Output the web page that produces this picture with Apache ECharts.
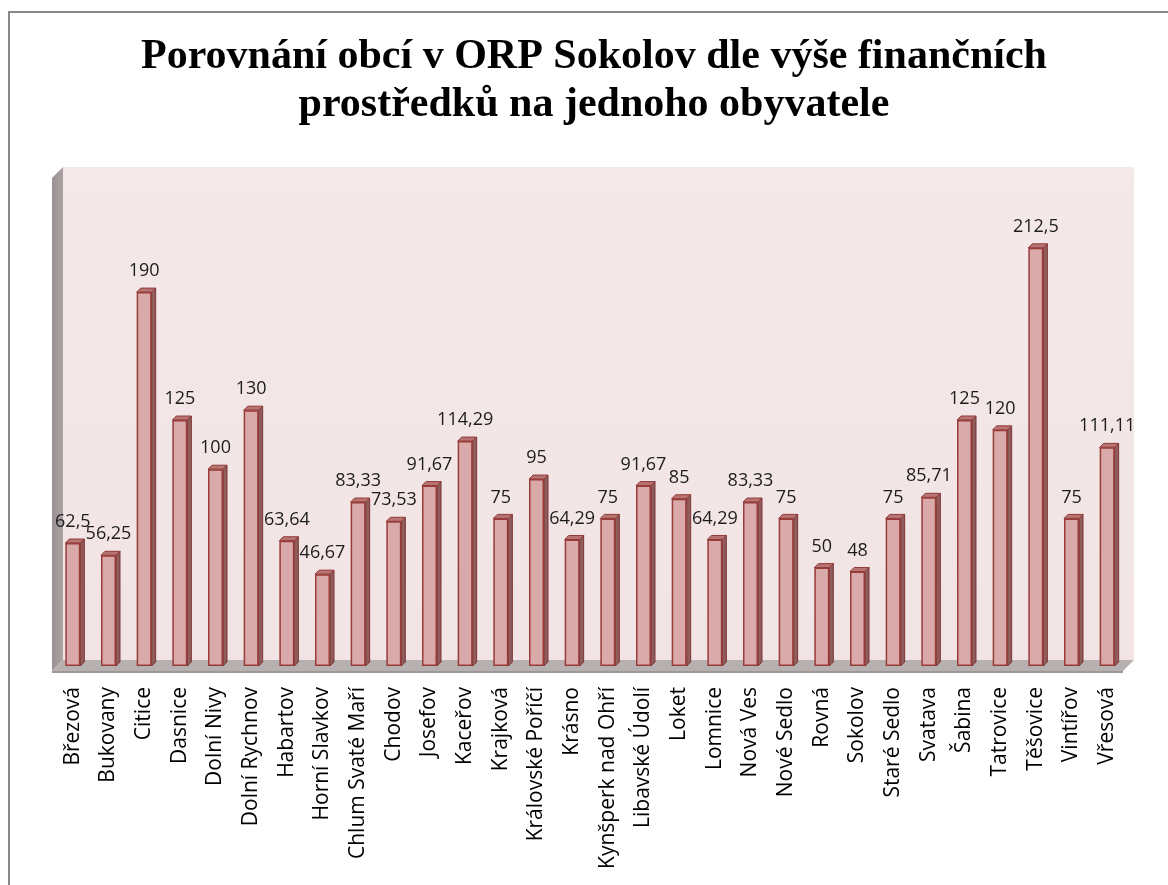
<!DOCTYPE html>
<html>
<head>
<meta charset="utf-8">
<script src="https://cdn.jsdelivr.net/npm/echarts@6/dist/echarts.min.js"></script>
<style>
  html, body { margin: 0; padding: 0; background: #fff; }
  #main { width: 1168px; height: 885px; }
</style>
</head>
<body>
<div id="main"></div>
<script>
var obce = ['Březová', 'Bukovany', 'Citice', 'Dasnice', 'Dolní Nivy', 'Dolní Rychnov', 'Habartov',
    'Horní Slavkov', 'Chlum Svaté Maří', 'Chodov', 'Josefov', 'Kaceřov', 'Krajková', 'Královské Poříčí',
    'Krásno', 'Kynšperk nad Ohří', 'Libavské Údolí', 'Loket', 'Lomnice', 'Nová Ves', 'Nové Sedlo',
    'Rovná', 'Sokolov', 'Staré Sedlo', 'Svatava', 'Šabina', 'Tatrovice', 'Těšovice', 'Vintířov', 'Vřesová'];
var hodnoty = [62.5, 56.25, 190, 125, 100, 130, 63.64, 46.67, 83.33, 73.53, 91.67, 114.29, 75, 95,
    64.29, 75, 91.67, 85, 64.29, 83.33, 75, 50, 48, 75, 85.71, 125, 120, 212.5, 75, 111.11];

var dom = document.getElementById('main');
var myChart = echarts.init(dom);
var option = null;

var FRONT = 7.5;   // polovina sirky predni steny sloupce
var D = 4;         // hloubka sloupce

// steny a podlaha grafu (3D vzhled jako v Excelu)
function renderWalls(params, api) {
    var c = params.coordSys;
    var gx = c.x, gy = c.y, gw = c.width, base = c.y + c.height;
    return {
        type: 'group',
        children: [
            {
                type: 'rect',
                shape: { x: gx + 8, y: gy - 7, width: gw + 1, height: base - 6 - (gy - 7) },
                style: {
                    fill: new echarts.graphic.LinearGradient(0, 0, 0, 1, [
                        { offset: 0, color: '#f4e8e8' },
                        { offset: 1, color: '#f2e4e4' }
                    ])
                }
            },
            {
                type: 'polygon',
                shape: { points: [[gx - 3, gy + 4], [gx + 8, gy - 7], [gx + 8, base - 6], [gx - 3, base + 5]] },
                style: {
                    fill: new echarts.graphic.LinearGradient(0, 0, 1, 0, [
                        { offset: 0, color: '#9c9494' },
                        { offset: 1, color: '#aaa2a2' }
                    ])
                }
            },
            {
                type: 'polygon',
                shape: { points: [[gx - 3, base + 5], [gx + 8, base - 6], [gx + gw + 9, base - 6], [gx + gw - 2, base + 5]] },
                style: { fill: '#b7b0b0' }
            },
            {
                type: 'rect',
                shape: { x: gx - 3, y: base + 5, width: gw + 1, height: 2 },
                style: { fill: '#9d9797' }
            }
        ]
    };
}

function renderSides(params, api) {
    var p = api.coord([api.value(0), api.value(1)]);
    var b = api.coord([api.value(0), 0]);
    var xl = p[0] - FRONT, xr = p[0] + FRONT;
    return {
        type: 'group',
        children: [
            {
                type: 'polygon',
                shape: { points: [[xr, p[1]], [xr + D, p[1] - D], [xr + D, b[1] - D], [xr, b[1]]] },
                style: { fill: '#8e5d5c', stroke: '#7d3432', lineWidth: 1 }
            },
            {
                type: 'polygon',
                shape: { points: [[xl, p[1]], [xl + D, p[1] - D], [xr + D, p[1] - D], [xr, p[1]]] },
                style: { fill: '#b87472', stroke: '#8f3a38', lineWidth: 1 }
            }
        ]
    };
}

option = {
    animation: false,
    title: {
        text: 'Porovnání obcí v ORP Sokolov dle výše finančních\nprostředků na jednoho obyvatele',
        left: 589,
        top: 28,
        textAlign: 'center',
        textStyle: {
            fontFamily: 'Liberation Serif',
            fontWeight: 'bold',
            fontSize: 42,
            lineHeight: 48,
            color: '#000'
        }
    },
    graphic: [{
        type: 'rect',
        shape: { x: 9, y: 12, width: 1200, height: 900 },
        style: { fill: 'none', stroke: '#878787', lineWidth: 2 },
        z: 100
    }],
    grid: {
        left: 55,
        top: 174,
        width: 1070,
        height: 492
    },
    xAxis: {
        type: 'category',
        data: obce,
        axisLine: { show: false },
        axisTick: { show: false },
        axisLabel: {
            rotate: 90,
            interval: 0,
            margin: 21,
            fontFamily: 'Open Sans',
            fontSize: 21,
            color: '#000'
        }
    },
    yAxis: {
        type: 'value',
        min: 0,
        max: 250,
        show: false,
        splitLine: { show: false }
    },
    series: [
        {
            type: 'custom',
            data: [0],
            renderItem: renderWalls,
            silent: true,
            z: 1
        },
        {
            type: 'custom',
            data: hodnoty.map(function (v, i) { return [i, v]; }),
            renderItem: renderSides,
            z: 3
        },
        {
            type: 'bar',
            data: hodnoty,
            barWidth: 2 * FRONT,
            z: 4,
            itemStyle: {
                color: '#d9aaa9',
                borderColor: '#983b39',
                borderWidth: 1.5
            },
            label: {
                show: true,
                position: 'top',
                distance: 12,
                fontFamily: 'Open Sans',
                fontSize: 18,
                color: '#1c1c1c',
                formatter: function (p) {
                    return String(p.value).replace('.', ',');
                }
            }
        }
    ]
};
if (option && typeof option === "object") {
    myChart.setOption(option, true);
}
</script>
</body>
</html>
